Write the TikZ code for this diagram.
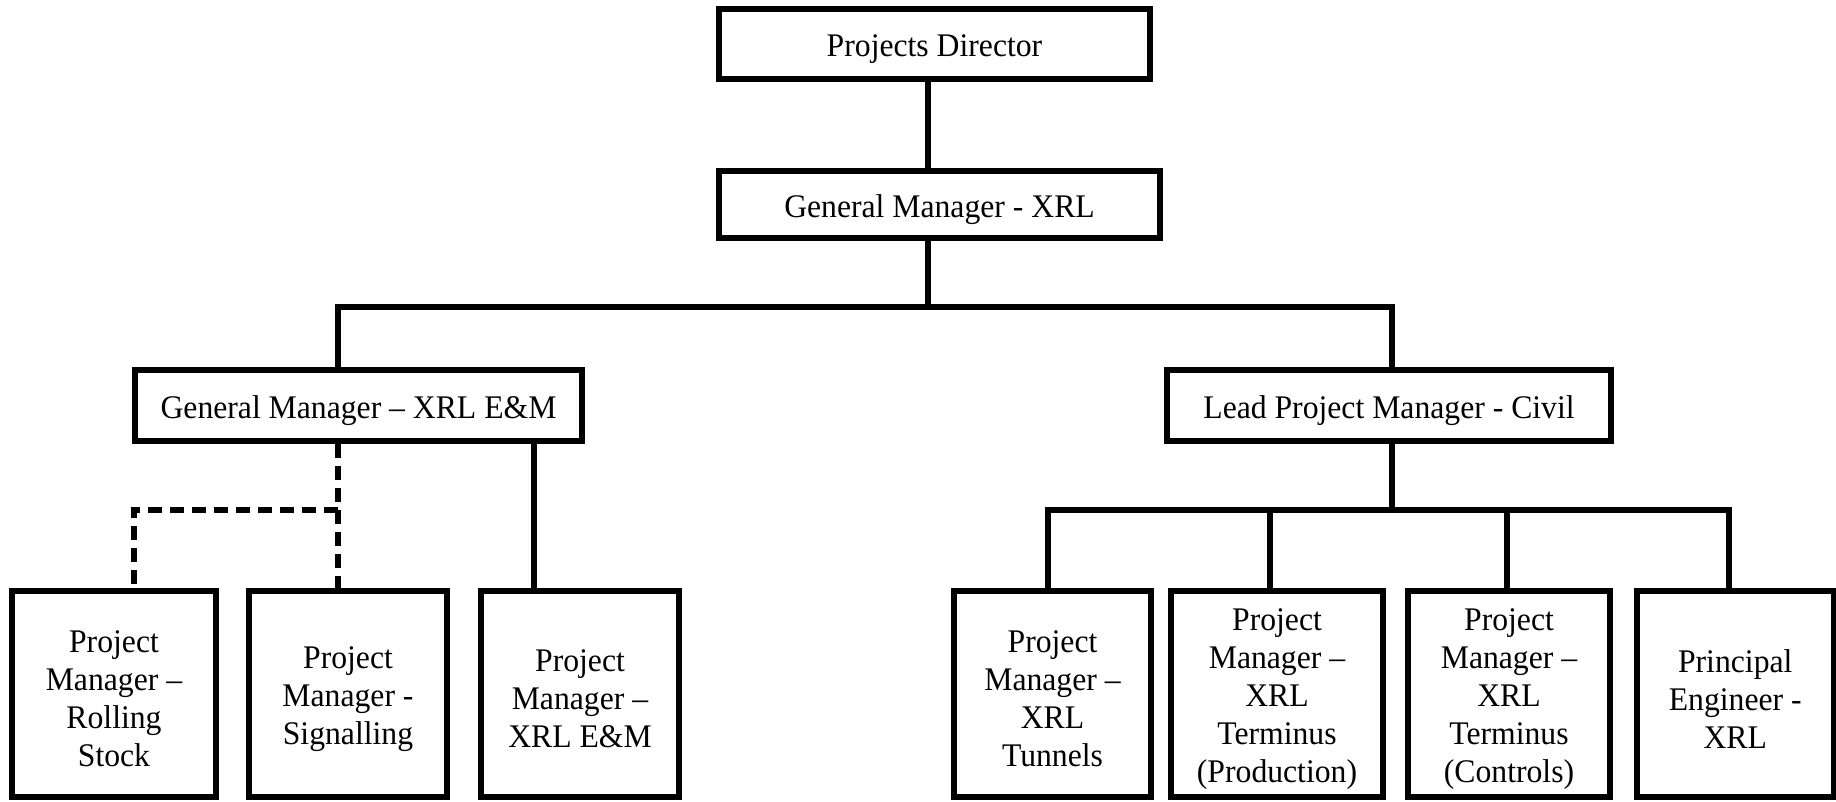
\documentclass[tikz,border=0pt]{standalone}
\usepackage{fontspec}
\setmainfont{Liberation Serif}[FakeStretch=0.96]
\begin{document}
\begin{tikzpicture}[x=1pt,y=-1pt,
  box/.style={draw, line width=5.5pt, rectangle, inner sep=0pt},
  lbl/.style={inner sep=0pt, align=center, yshift=-5pt,
    font=\fontsize{33pt}{38pt}\selectfont},
  leafbox/.style={box, minimum height=206pt},
  link/.style={line width=5.5pt},
  dlink/.style={line width=5.5pt, dash pattern=on 14pt off 8pt}]
\useasboundingbox (0,0) rectangle (1836,801);

% top levels
\node[box, minimum width=431pt, minimum height=70pt] (pd) at (934.5,44) {};
\node[lbl] (pdt) at (pd.center) {Projects Director};
\node[box, minimum width=441pt, minimum height=67pt] (gm) at (939.5,204.5) {};
\node[lbl] (gmt) at (gm.center) {General Manager - XRL};
\node[box, minimum width=447pt, minimum height=71pt] (gmem) at (358.5,405.5) {};
\node[lbl] (gmemt) at (gmem.center) {General Manager -- XRL E\&M};
\node[box, minimum width=444pt, minimum height=71pt] (civ) at (1389,405.5) {};
\node[lbl] (civt) at (civ.center) {Lead Project Manager - Civil};

% leaves
\node[leafbox, minimum width=204pt] (b1) at (114,694) {};
\node[lbl] (b1t) at (b1.center) {Project\\Manager --\\Rolling\\Stock};
\node[leafbox, minimum width=198pt] (b2) at (348,694) {};
\node[lbl] (b2t) at (b2.center) {Project\\Manager -\\Signalling};
\node[leafbox, minimum width=198pt] (b3) at (580,694) {};
\node[lbl] (b3t) at (b3.center) {Project\\Manager --\\XRL E\&M};
\node[leafbox, minimum width=197pt] (b4) at (1052.5,694) {};
\node[lbl] (b4t) at (b4.center) {Project\\Manager --\\XRL\\Tunnels};
\node[leafbox, minimum width=212pt] (b5) at (1277,694) {};
\node[lbl] (b5t) at (b5.center) {Project\\Manager --\\XRL\\Terminus\\(Production)};
\node[leafbox, minimum width=202pt] (b6) at (1509,694) {};
\node[lbl] (b6t) at (b6.center) {Project\\Manager --\\XRL\\Terminus\\(Controls)};
\node[leafbox, minimum width=196.5pt] (b7) at (1735.25,694) {};
\node[lbl] (b7t) at (b7.center) {Principal\\Engineer -\\XRL};

% junction points
\coordinate (t) at (928,307);
\coordinate (tl) at (338,307);
\coordinate (tr) at (1392,307);
\coordinate (el) at (134,510);
\coordinate (em) at (338,510);
\coordinate (s3) at (534,510);
\coordinate (cm) at (1392,510);
\coordinate (cl) at (1048,510);
\coordinate (c5) at (1270,510);
\coordinate (c6) at (1507,510);
\coordinate (cr) at (1729,510);

% connectors
\draw[link] (pd.south -| t) -- (gm.north -| t);
\draw[link] (gm.south -| t) -- (t);
\draw[link] (tl |- gmem.north) |- (tr) -- (tr |- civ.north);

\draw[dlink] (em |- gmem.south) -- (em |- b2.north);
\draw[dlink] (em) -- (el) -- (el |- b1.north);
\draw[link] (s3 |- gmem.south) -- (s3 |- b3.north);

\draw[link] (cm |- civ.south) -- (cm);
\draw[link] (cl |- b4.north) |- (cr) -- (cr |- b7.north);
\draw[link] (c5) -- (c5 |- b5.north);
\draw[link] (c6) -- (c6 |- b6.north);
\end{tikzpicture}
\end{document}
